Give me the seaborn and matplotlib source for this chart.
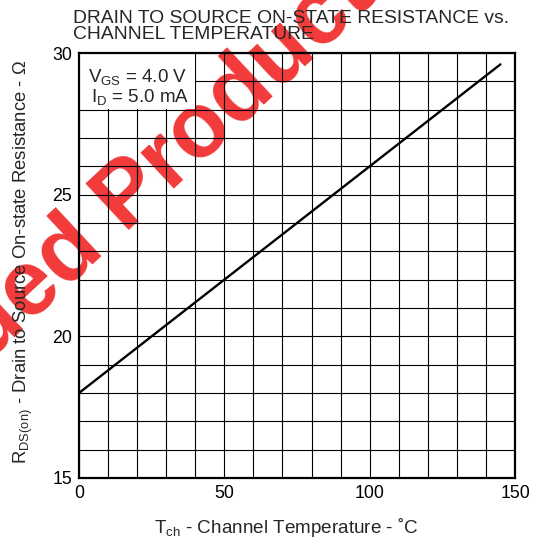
import matplotlib
matplotlib.use("Agg")
import matplotlib.pyplot as plt
import seaborn as sns
import pandas as pd
from matplotlib.patches import Rectangle

# ---- data ----
temperature = [0, 50, 100, 145]          # Tch (deg C)
resistance = [18.0, 22.0, 26.0, 29.6]    # RDS(on) (ohm)
x_major = [0, 50, 100, 150]
y_major = [15, 20, 25, 30]
x_grid = list(range(0, 151, 10))
y_grid = list(range(15, 31, 1))

sns.set_style("white")
plt.rcParams["font.family"] = ["Liberation Sans", "DejaVu Sans"]
plt.rcParams["mathtext.fontset"] = "custom"
plt.rcParams["mathtext.rm"] = "Liberation Sans"
plt.rcParams["mathtext.it"] = "Liberation Sans:italic"
plt.rcParams["mathtext.bf"] = "Liberation Sans:bold"

W, H = 539, 541
fig = plt.figure(figsize=(W / 100, H / 100), dpi=100)
fig.patch.set_facecolor("white")

# watermark (behind the chart)
fig.text(14 / W, 1 - 305 / H, "Discontinued Product", fontsize=66, fontweight="bold",
         color="#f23a3a", rotation=43, rotation_mode="anchor",
         ha="center", va="center", zorder=-1)

ax = fig.add_axes([79 / W, 1 - 478 / H, (515 - 79) / W, (478 - 53) / H])
ax.patch.set_alpha(0)

df = pd.DataFrame({"T": temperature, "R": resistance})
sns.lineplot(data=df, x="T", y="R", ax=ax, color="black", lw=1.7, zorder=4)

ax.set_xlim(0, 150)
ax.set_ylim(15, 30)
ax.set_xticks(x_major)
ax.set_yticks(y_major)
ax.set_xticks(x_grid, minor=True)
ax.set_yticks(y_grid, minor=True)
ax.grid(which="both", color="black", lw=0.8)
ax.set_axisbelow(True)
ax.tick_params(which="both", length=0)
ax.tick_params(axis="x", labelsize=12.8, pad=5, colors="black")
ax.tick_params(axis="y", labelsize=12.8, pad=5, colors="black")
ax.set_xlabel("")
ax.set_ylabel("")
for s in ax.spines.values():
    s.set_visible(True)
    s.set_color("black")
    s.set_linewidth(1.6)

# condition box
ax.add_patch(Rectangle((0, 28.04), 39.85, 2.0, facecolor="white", edgecolor="none", zorder=2))
ax.text(3.1, 28.98, r"$\mathrm{V_{GS}}$ = 4.0 V", fontsize=13.5, ha="left", va="baseline", zorder=5)
ax.text(4.3, 28.27, r"$\mathrm{I_{D}}$ = 5.0 mA", fontsize=13.5, ha="left", va="baseline", zorder=5)

# title
fig.text(73 / W, 1 - 10 / H, "DRAIN TO SOURCE ON-STATE RESISTANCE vs.\nCHANNEL TEMPERATURE",
         ha="left", va="top", fontsize=13.9, linespacing=0.95)

# axis labels
fig.text(286 / W, 1 - 533 / H, r"$\mathrm{T_{ch}}$ - Channel Temperature - ˚C",
         ha="center", va="baseline", fontsize=13.6)
fig.text(12 / W, 1 - 262 / H, r"$\mathrm{R_{DS(on)}}$ - Drain to Source On-state Resistance - Ω",
         ha="left", va="center", rotation=90, fontsize=13.3)

fig.savefig("out.png", dpi=100)
